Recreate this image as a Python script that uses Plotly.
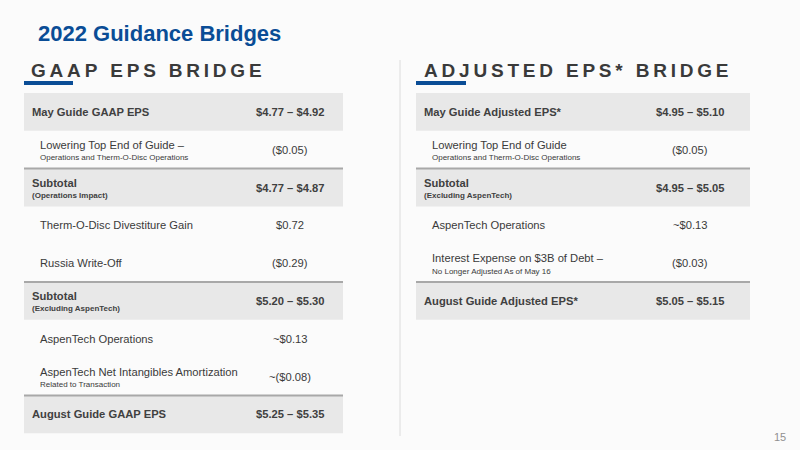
import plotly.graph_objects as go

title = "2022 Guidance Bridges"
left_header = "GAAP EPS BRIDGE"
right_header = "ADJUSTED EPS* BRIDGE"

left_labels = ["May Guide GAAP EPS", "Lowering Top End of Guide –", "Subtotal", "Therm-O-Disc Divestiture Gain",
               "Russia Write-Off", "Subtotal", "AspenTech Operations", "AspenTech Net Intangibles Amortization", "August Guide GAAP EPS"]
left_sub = ["", "Operations and Therm-O-Disc Operations", "(Operations Impact)", "", "", "(Excluding AspenTech)", "",
            "Related to Transaction", ""]
left_values = ["$4.77 – $4.92", "($0.05)", "$4.77 – $4.87", "$0.72", "($0.29)", "$5.20 – $5.30", "~$0.13", "~($0.08)", "$5.25 – $5.35"]
left_bold = [1, 0, 1, 0, 0, 1, 0, 0, 1]

right_labels = ["May Guide Adjusted EPS*", "Lowering Top End of Guide", "Subtotal", "AspenTech Operations",
                "Interest Expense on $3B of Debt –", "August Guide Adjusted EPS*"]
right_sub = ["", "Operations and Therm-O-Disc Operations", "(Excluding AspenTech)", "", "No Longer Adjusted As of May 16", ""]
right_values = ["$4.95 – $5.10", "($0.05)", "$4.95 – $5.05", "~$0.13", "($0.03)", "$5.05 – $5.15"]
right_bold = [1, 0, 1, 0, 0, 1]

FONT = "Liberation Sans"
fig = go.Figure()
shapes, ann = [], []

def spaced(s):
    return "\u2009".join(s)

def table(x0, x1, labels, subs, values, bold, vx):
    top, h = 93, 37.8
    for i, (lab, sub, val, b) in enumerate(zip(labels, subs, values, bold)):
        y0 = top + i * h
        y1 = y0 + h
        if b:
            shapes.append(dict(type="rect", x0=x0, x1=x1, y0=y0, y1=y1, fillcolor="#e8e8e8", line_width=0, layer="below"))
            if i > 0:
                shapes.append(dict(type="line", x0=x0, x1=x1, y0=y0, y1=y0, line=dict(color="#a8a8a8", width=2)))
        lx = x0 + 6 if b else x0 + 14
        col = "#404040" if b else "#3a3a3a"
        wt = "bold" if b else "normal"
        fs = 11.2
        if sub:
            ann.append(dict(x=lx, y=y0 + h / 2 - 5, text=lab, font=dict(size=fs, color=col, family=FONT, weight=wt),
                            xanchor="left", yanchor="middle", showarrow=False))
            ann.append(dict(x=lx, y=y0 + h / 2 + 8, text=sub, font=dict(size=8, color=col, family=FONT, weight=wt),
                            xanchor="left", yanchor="middle", showarrow=False))
        else:
            ann.append(dict(x=lx, y=y0 + h / 2, text=lab, font=dict(size=fs, color=col, family=FONT, weight=wt),
                            xanchor="left", yanchor="middle", showarrow=False))
        ann.append(dict(x=vx, y=y0 + h / 2, text=val, font=dict(size=11.2, color=col, family=FONT, weight=wt),
                        xanchor="center", yanchor="middle", showarrow=False))

table(24, 343, left_labels, left_sub, left_values, left_bold, 290)
table(416, 750, right_labels, right_sub, right_values, right_bold, 690)

shapes.append(dict(type="line", x0=400, x1=400, y0=60, y1=436, line=dict(color="#dcdcdc", width=1)))
shapes.append(dict(type="line", x0=24, x1=73, y0=83, y1=83, line=dict(color="#0a4d96", width=4)))
shapes.append(dict(type="line", x0=416, x1=466, y0=83, y1=83, line=dict(color="#0a4d96", width=4)))

ann.append(dict(x=36, y=33, text=title, font=dict(size=22, color="#0a4d96", family="Liberation Sans", weight="bold"),
                xanchor="left", yanchor="middle", showarrow=False))
ann.append(dict(x=29, y=70, text=spaced(left_header), font=dict(size=19, color="#3a3a3a", family="Liberation Sans", weight="bold"),
                xanchor="left", yanchor="middle", showarrow=False))
ann.append(dict(x=422, y=70, text=spaced(right_header), font=dict(size=19, color="#3a3a3a", family="Liberation Sans", weight="bold"),
                xanchor="left", yanchor="middle", showarrow=False))
ann.append(dict(x=788, y=437, text="15", font=dict(size=11, color="#909090", family="Liberation Sans"),
                xanchor="right", yanchor="middle", showarrow=False))

fig.update_layout(width=800, height=450, margin=dict(l=0, r=0, t=0, b=0),
                  paper_bgcolor="#fbfbfb", plot_bgcolor="#fbfbfb",
                  xaxis=dict(range=[0, 800], visible=False, fixedrange=True),
                  yaxis=dict(range=[450, 0], visible=False, fixedrange=True),
                  shapes=shapes, annotations=ann, showlegend=False)
fig.write_html("out.html", config={"displayModeBar": False})
with open("out.html", encoding="utf-8") as f:
    html = f.read()
html = html.replace("<body>", '<body style="margin:0;overflow:hidden">', 1)
with open("out.html", "w", encoding="utf-8") as f:
    f.write(html)
